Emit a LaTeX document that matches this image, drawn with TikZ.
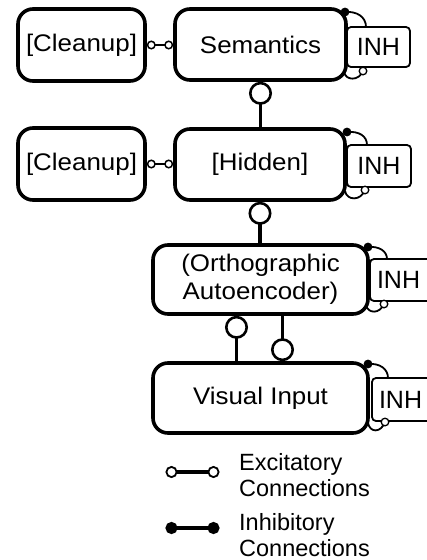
\documentclass[tikz,border=0pt]{standalone}
\usepackage{fontspec}
\setmainfont{Liberation Sans}
\newfontfamily\boxfont[FakeStretch=1.08]{Liberation Sans}
\usetikzlibrary{arrows.meta,calc}
\begin{document}
\begin{tikzpicture}[x=1pt,y=-1pt,
  unit/.style={draw, line width=3.6pt, rounded corners=15pt, fill=white,
    font=\boxfont\fontsize{24}{28}\selectfont, align=center, inner sep=0pt},
  inh/.style={draw, line width=1.8pt, rounded corners=4pt, fill=white,
    font=\fontsize{25}{28}\selectfont, inner sep=0pt},
  conn/.style={line width=3.2pt},
  smallexc/.style={line width=2.4pt, {Circle[open,length=9pt,width=9pt,line width=1.5pt]}-{Circle[open,length=9pt,width=9pt,line width=1.5pt]}},
  bigexc/.style={conn, {Circle[open,length=23pt,width=23pt,line width=2.6pt]}-},
  bigexcend/.style={conn, -{Circle[open,length=23pt,width=23pt,line width=2.6pt]}},
  inharc/.style={line width=1.8pt},
  inhdot/.style={fill=black},
  exdot/.style={draw, line width=1.3pt, fill=white},
  legtext/.style={anchor=west, align=left, font=\fontsize{23.5}{26}\selectfont, inner sep=0pt}]
\clip (0,0) rectangle (427,560);
\fill[white] (0,0) rectangle (427,560);

% INH boxes (behind the units)
\node[inh, minimum width=63pt, minimum height=40pt] (inhA) at (378.5,47) {INH};
\node[inh, minimum width=64pt, minimum height=42pt] (inhB) at (379,166) {INH};
\node[inh, minimum width=70pt, minimum height=42pt, text width=56pt, align=left] (inhC) at (405,280) {INH};
\node[inh, minimum width=70pt, minimum height=43pt, text width=56pt, align=left] (inhD) at (407,399.5) {INH};

% Inhibitory self loops
\coordinate (dA) at (345,12);  \coordinate (tA) at (366,27);
\coordinate (sA) at (344,72);  \coordinate (wA) at (363,71);
\coordinate (dB) at (347,132); \coordinate (tB) at (367,145);
\coordinate (sB) at (345,191); \coordinate (wB) at (365,190);
\coordinate (dC) at (368,247); \coordinate (tC) at (387,259);
\coordinate (sC) at (366,305); \coordinate (wC) at (384,304);
\coordinate (dD) at (368,364); \coordinate (tD) at (388,378);
\coordinate (sD) at (368,423); \coordinate (wD) at (385,422);

\draw[inharc] (dA) .. controls (357,11) and (366,17) .. (tA);
\draw[inharc] (sA) .. controls (346,81) and (359,81) .. (wA);
\draw[inharc] (dB) .. controls (359,131) and (367,136) .. (tB);
\draw[inharc] (sB) .. controls (347,201) and (361,201) .. (wB);
\draw[inharc] (dC) .. controls (379,246) and (387,251) .. (tC);
\draw[inharc] (sC) .. controls (368,314) and (380,314) .. (wC);
\draw[inharc] (dD) .. controls (380,363) and (388,369) .. (tD);
\draw[inharc] (sD) .. controls (370,433) and (381,433) .. (wD);

% Units
\node[unit, minimum width=127pt, minimum height=72pt] (cleanA) at (81.5,45) {[Cleanup]};
\node[unit, minimum width=171pt, minimum height=71pt] (sem) at (260.5,44.5) {Semantics};
\node[unit, minimum width=127pt, minimum height=72pt] (cleanB) at (81.5,164) {[Cleanup]};
\node[unit, minimum width=170pt, minimum height=71pt] (hid) at (260,164.5) {[Hidden]};
\node[unit, minimum width=215pt, minimum height=69pt] (ortho) at (260.5,279.5) {(Orthographic\\Autoencoder)};
\node[unit, minimum width=215pt, minimum height=70pt] (vis) at (260.5,398) {Visual Input};

% dots of the inhibitory loops
\foreach \d in {dA,dB,dC,dD} \fill[inhdot] (\d) circle (4.4pt);
\foreach \w in {wA,wB,wC,wD} \draw[exdot] (\w) circle (3.8pt);

% Excitatory connections
\draw[smallexc] (cleanA.east) -- (cleanA.east -| sem.west);
\draw[smallexc] (cleanB.east) -- (cleanB.east -| hid.west);
\draw[bigexc] (sem.south) -- (sem.south |- hid.north);
\draw[bigexc] (hid.south) -- (hid.south |- ortho.north);
\draw[bigexc] ($(ortho.south)+(-24,0)$) -- ($(vis.north)+(-24,0)$);
\draw[bigexcend] ($(ortho.south)+(22,0)$) -- ($(vis.north)+(22,0)$);

% Legend
\coordinate (e1) at (165.5,472); \coordinate (e2) at (219.5,472);
\coordinate (i1) at (165.5,528); \coordinate (i2) at (219.5,528);
\draw[conn, {Circle[open,length=12pt,width=12pt,line width=1.8pt]}-{Circle[open,length=12pt,width=12pt,line width=1.8pt]}] (e1) -- (e2);
\draw[conn, {Circle[length=12pt,width=12pt]}-{Circle[length=12pt,width=12pt]}] (i1) -- (i2);
\node[legtext] (lexc) at (239,475) {Excitatory\\Connections};
\node[legtext] (linh) at (239,535) {Inhibitory\\Connections};
\end{tikzpicture}
\end{document}
